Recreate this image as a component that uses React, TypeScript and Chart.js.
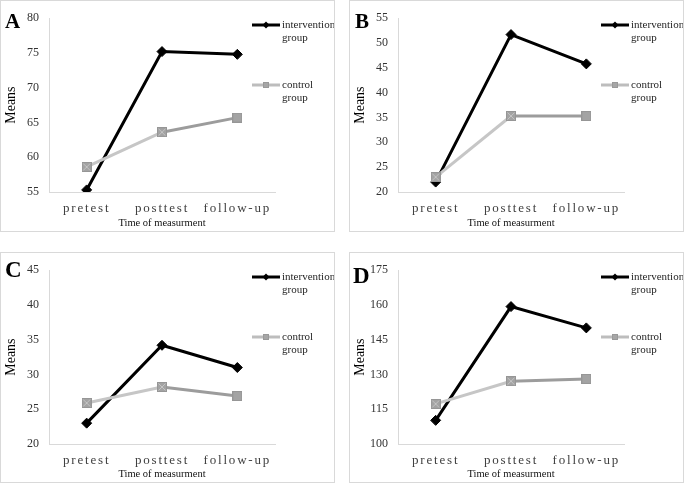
import React, { useEffect, useRef } from 'react';
import { Chart, registerables } from 'chart.js';

Chart.register(...registerables);

// ---------- data ----------
const categories = ['pretest', 'posttest', 'follow-up'];
const panelLetters = ['A', 'B', 'C', 'D'];
const interventionLegend = ['intervention', 'group'];
const controlLegend = ['control', 'group'];
const xTitle = 'Time of measurment';
const yTitle = 'Means';

const interventionA = [55.3, 75.2, 74.8];
const controlA = [58.6, 63.6, 65.7];
const interventionB = [22.0, 51.7, 45.8];
const controlB = [23.0, 35.3, 35.3];
const interventionC = [23.0, 34.2, 31.0];
const controlC = [25.9, 28.2, 26.9];
const interventionD = [110.2, 159.3, 150.1];
const controlD = [117.3, 127.1, 128.1];

const yMins = [55, 20, 20, 100];
const yMaxs = [80, 55, 45, 175];
const ySteps = [5, 5, 5, 15];

const SERIF = '"Liberation Serif", "Times New Roman", serif';

function makeSquare(size: number, cross: boolean): HTMLCanvasElement {
  const c = document.createElement('canvas');
  c.width = size;
  c.height = size;
  const g = c.getContext('2d')!;
  g.fillStyle = '#a3a3a3';
  g.fillRect(0, 0, size, size);
  g.strokeStyle = '#969696';
  g.lineWidth = 1;
  g.strokeRect(0.5, 0.5, size - 1, size - 1);
  if (cross) {
    g.strokeStyle = '#c4c4c4';
    g.beginPath();
    g.moveTo(1.5, 1.5);
    g.lineTo(size - 1.5, size - 1.5);
    g.moveTo(size - 1.5, 1.5);
    g.lineTo(1.5, size - 1.5);
    g.stroke();
  }
  return c;
}

type PanelProps = {
  left: number;
  top: number;
  width: number;
  height: number;
  letter: string;
  letterSize: number;
  letterX: number;
  letterBase: number;
  intervention: number[];
  control: number[];
  yMin: number;
  yMax: number;
  yStep: number;
};

function Panel(p: PanelProps) {
  const ref = useRef<HTMLCanvasElement | null>(null);
  const cw = p.width - 2;
  const ch = p.height - 2;

  useEffect(() => {
    if (!ref.current) return;
    const sqX = makeSquare(10, true);
    const sq = makeSquare(10, false);

    const spacingPlugin = {
      id: 'xSpacing',
      beforeDraw(chart: any) {
        const xs: any = chart.scales.x;
        if (xs && !xs.__patched) {
          const orig = xs.drawLabels.bind(xs);
          xs.drawLabels = (area: any) => {
            const ctx = chart.ctx as any;
            ctx.save();
            ctx.letterSpacing = '1.8px';
            orig(area);
            ctx.restore();
          };
          xs.__patched = true;
        }
      },
    };

    const decorPlugin = {
      id: 'decor',
      afterDraw(chart: any) {
        const ctx = chart.ctx as CanvasRenderingContext2D;
        ctx.save();
        // panel letter
        ctx.fillStyle = '#000';
        ctx.font = `bold ${p.letterSize}px ${SERIF}`;
        ctx.textAlign = 'left';
        ctx.textBaseline = 'alphabetic';
        ctx.fillText(p.letter, p.letterX - 1, p.letterBase - 1);

        // legend
        const lx0 = 251;
        const lx1 = 279;
        const tx = 281;
        const rows = [
          { y: 24, lines: interventionLegend, color: '#000000', kind: 'diamond' },
          { y: 84, lines: controlLegend, color: '#bdbdbd', kind: 'square' },
        ];
        ctx.font = `11px ${SERIF}`;
        ctx.textBaseline = 'middle';
        for (const r of rows) {
          ctx.strokeStyle = r.color;
          ctx.lineWidth = 3;
          ctx.beginPath();
          ctx.moveTo(lx0, r.y);
          ctx.lineTo(lx1, r.y);
          ctx.stroke();
          const mx = (lx0 + lx1) / 2;
          if (r.kind === 'diamond') {
            ctx.fillStyle = '#000';
            ctx.beginPath();
            ctx.moveTo(mx, r.y - 3.5);
            ctx.lineTo(mx + 3.5, r.y);
            ctx.lineTo(mx, r.y + 3.5);
            ctx.lineTo(mx - 3.5, r.y);
            ctx.closePath();
            ctx.fill();
          } else {
            ctx.fillStyle = '#a6a6a6';
            ctx.fillRect(mx - 3, r.y - 3, 6, 6);
            ctx.strokeStyle = '#999';
            ctx.lineWidth = 1;
            ctx.strokeRect(mx - 2.5, r.y - 2.5, 5, 5);
          }
          ctx.fillStyle = '#262626';
          r.lines.forEach((t, i) => ctx.fillText(t, tx, r.y + i * 13));
        }
        ctx.restore();
      },
    };

    const xHeight = ch - 191;

    const chart = new Chart(ref.current, {
      type: 'line',
      data: {
        labels: categories,
        datasets: [
          {
            label: controlLegend.join(' '),
            data: p.control,
            borderWidth: 3,
            borderColor: '#bdbdbd',
            segment: {
              borderColor: (c: any) => (c.p0DataIndex === 0 ? '#c6c6c6' : '#9c9c9c'),
            },
            pointStyle: [sqX, sqX, sq] as any,
            pointRadius: 5,
            tension: 0,
            order: 0,
          },
          {
            label: interventionLegend.join(' '),
            data: p.intervention,
            borderWidth: 3,
            borderColor: '#000000',
            backgroundColor: '#000000',
            pointBackgroundColor: '#000000',
            pointBorderColor: '#000000',
            pointStyle: 'rectRot',
            pointRadius: 5,
            pointBorderWidth: 1,
            tension: 0,
            order: 1,
          },
        ],
      },
      options: {
        responsive: false,
        animation: false,
        events: [],
        layout: { padding: { left: 0, right: cw - 274, top: 13, bottom: 0 } },
        plugins: {
          legend: { display: false },
          tooltip: { enabled: false },
          title: { display: false },
        },
        scales: {
          x: {
            type: 'category',
            offset: true,
            grid: { display: false, drawTicks: false },
            border: { display: true, color: '#d9d9d9', width: 1 },
            ticks: {
              font: { family: SERIF, size: 13 },
              color: '#404040',
              padding: 9,
              maxRotation: 0,
              autoSkip: false,
            },
            title: {
              display: true,
              text: xTitle,
              font: { family: SERIF, size: 10.5 },
              color: '#111',
              padding: { top: 0, bottom: 1 },
            },
            afterFit: (s: any) => {
              s.height = xHeight;
            },
          },
          y: {
            min: p.yMin,
            max: p.yMax,
            grid: { display: false, drawTicks: false },
            border: { display: true, color: '#d9d9d9', width: 1 },
            ticks: {
              stepSize: p.yStep,
              font: { family: SERIF, size: 12 },
              color: '#333',
              padding: 10,
            },
            title: {
              display: true,
              text: yTitle,
              font: { family: SERIF, size: 14 },
              color: '#000',
              padding: { top: 2, bottom: 0 },
            },
            afterFit: (s: any) => {
              s.width = 48;
            },
          },
        },
      },
      plugins: [spacingPlugin, decorPlugin],
    });
    chart.draw();
    return () => chart.destroy();
  }, []);

  return (
    <div
      style={{
        position: 'absolute',
        left: p.left,
        top: p.top,
        width: p.width,
        height: p.height,
        boxSizing: 'border-box',
        border: '1px solid #d9d9d9',
        background: '#fff',
      }}
    >
      <canvas ref={ref} width={cw} height={ch} style={{ display: 'block', width: cw, height: ch }} />
    </div>
  );
}

export default function App() {
  const ints = [interventionA, interventionB, interventionC, interventionD];
  const ctrls = [controlA, controlB, controlC, controlD];
  const geo = [
    { left: 0, top: 0, width: 335, height: 232, size: 21, lx: 5, lb: 28 },
    { left: 349, top: 0, width: 335, height: 232, size: 21, lx: 6, lb: 28 },
    { left: 0, top: 252, width: 335, height: 231, size: 23, lx: 5, lb: 25 },
    { left: 349, top: 252, width: 335, height: 231, size: 23, lx: 4, lb: 31 },
  ];
  return (
    <div style={{ position: 'absolute', left: 0, top: 0, width: 685, height: 484, background: '#fff' }}>
      {geo.map((g, i) => (
        <Panel
          key={i}
          left={g.left}
          top={g.top}
          width={g.width}
          height={g.height}
          letter={panelLetters[i]}
          letterSize={g.size}
          letterX={g.lx}
          letterBase={g.lb}
          intervention={ints[i]}
          control={ctrls[i]}
          yMin={yMins[i]}
          yMax={yMaxs[i]}
          yStep={ySteps[i]}
        />
      ))}
    </div>
  );
}
